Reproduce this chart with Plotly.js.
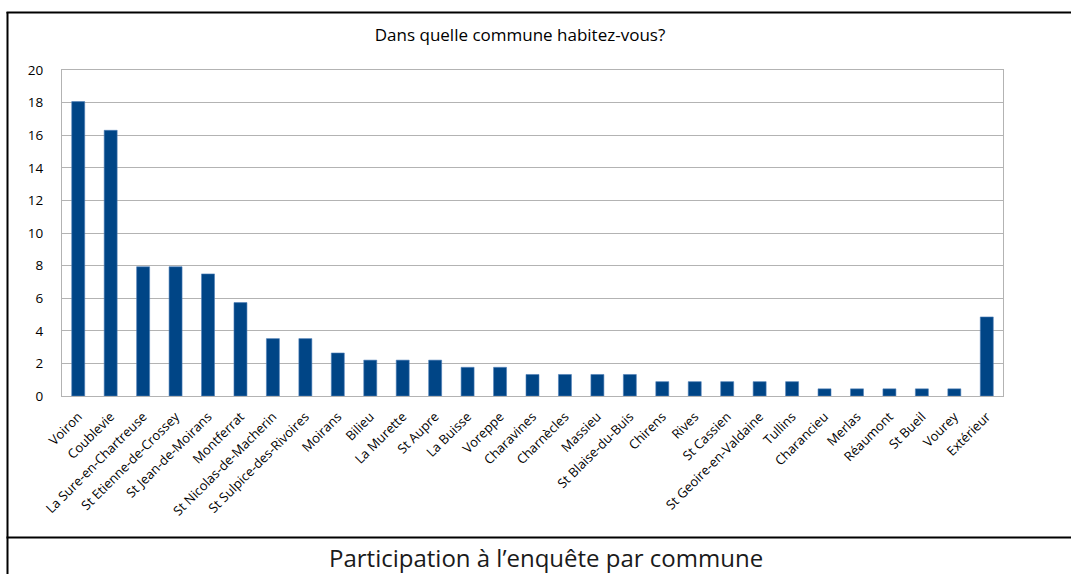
<!DOCTYPE html>
<html>
<head>
<meta charset="utf-8">
<script src="https://cdn.plot.ly/plotly-3.0.1.min.js"></script>
<style>html,body{margin:0;padding:0;background:#fff;}#chart{width:1071px;height:574px;}</style>
</head>
<body>
<div id="chart"></div>
<script>
const communes = ["Voiron","Coublevie","La Sure-en-Chartreuse","St Etienne-de-Crossey","St Jean-de-Moirans","Montferrat","St Nicolas-de-Macherin","St Sulpice-des-Rivoires","Moirans","Bilieu","La Murette","St Aupre","La Buisse","Voreppe","Charavines","Charnècles","Massieu","St Blaise-du-Buis","Chirens","Rives","St Cassien","St Geoire-en-Valdaine","Tullins","Charancieu","Merlas","Réaumont","St Bueil","Vourey","Extérieur"];
const pourcentages = [18.06,16.30,7.93,7.93,7.49,5.73,3.52,3.52,2.64,2.20,2.20,2.20,1.76,1.76,1.32,1.32,1.32,1.32,0.88,0.88,0.88,0.88,0.88,0.44,0.44,0.44,0.44,0.44,4.85];
const yTicks = [0,2,4,6,8,10,12,14,16,18,20];
const chartTitle = "Dans quelle commune habitez-vous?";
const caption = "Participation à l’enquête par commune";

const W = 1071, H = 574;
const M = {l: 62, r: 68, t: 70, b: 178};
const PW = W - M.l - M.r, PH = H - M.t - M.b;
const px = x => (x - M.l) / PW;
const py = y => 1 - (y - M.t) / PH;

const font = "'Open Sans', 'Liberation Sans', sans-serif";

const trace = {
  type: 'bar',
  x: communes,
  y: pourcentages,
  marker: {color: '#004586', line: {color: '#4f7fb8', width: 0.6}},
  hoverinfo: 'x+y'
};

const frameLine = {color: '#000', width: 2};
const layout = {
  width: W, height: H,
  margin: M,
  paper_bgcolor: '#fff', plot_bgcolor: '#fff',
  showlegend: false,
  bargap: 0.6,
  font: {family: font, color: '#000'},
  xaxis: {
    type: 'category',
    tickangle: -45,
    tickfont: {size: 13, family: font, color: '#000'},
    showline: true, linecolor: '#b3b3b3', linewidth: 1, mirror: true,
    showgrid: false, ticks: '', ticklabelstandoff: 7, automargin: false
  },
  yaxis: {
    range: [0, 20],
    tickvals: yTicks,
    tickfont: {size: 13.5, family: font, color: '#000'},
    showline: true, linecolor: '#b3b3b3', linewidth: 1, mirror: true,
    showgrid: true, gridcolor: '#b3b3b3', gridwidth: 1,
    zeroline: false, ticks: '', ticklabelstandoff: 15, automargin: false
  },
  title: {
    text: chartTitle,
    font: {size: 17, family: font, color: '#000'},
    x: px(520), xref: 'paper', xanchor: 'center',
    y: py(39), yref: 'paper', yanchor: 'middle'
  },
  annotations: [{
    text: caption, xref: 'paper', yref: 'paper',
    x: px(546), y: py(557), xanchor: 'center', yanchor: 'middle',
    showarrow: false, font: {size: 24, family: font, color: '#1a1a1a'}
  }],
  shapes: [
    {type: 'line', xref: 'paper', yref: 'paper', x0: px(7.5), x1: px(7.5), y0: py(12), y1: py(580), line: frameLine},
    {type: 'line', xref: 'paper', yref: 'paper', x0: px(6.5), x1: px(1080), y0: py(12.5), y1: py(12.5), line: frameLine},
    {type: 'line', xref: 'paper', yref: 'paper', x0: px(6.5), x1: px(1080), y0: py(537.5), y1: py(537.5), line: frameLine}
  ]
};

Plotly.newPlot('chart', [trace], layout, {staticPlot: true, displayModeBar: false});
</script>
</body>
</html>
